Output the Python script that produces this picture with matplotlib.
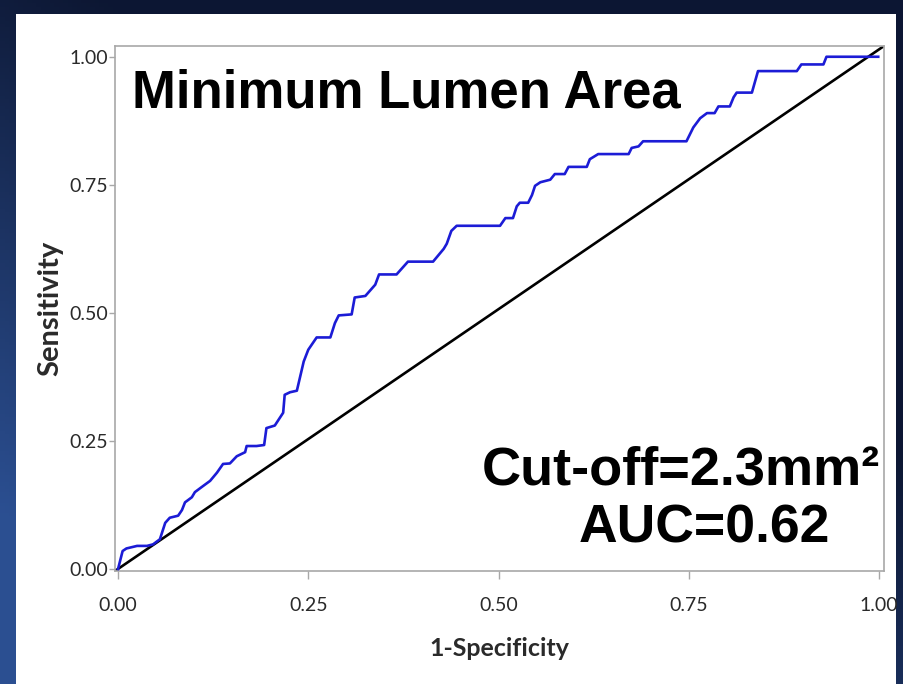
import numpy as np
import matplotlib
matplotlib.use("Agg")
import matplotlib.pyplot as plt
from matplotlib.patches import Rectangle

# ROC curve points (1-specificity, sensitivity)
fpr = [0.000, 0.006, 0.011, 0.025, 0.038, 0.046, 0.055, 0.062, 0.068, 0.079,
       0.084, 0.088, 0.097, 0.101, 0.110, 0.121, 0.130, 0.138, 0.147, 0.156,
       0.167, 0.169, 0.182, 0.192, 0.195, 0.206, 0.217, 0.219, 0.226, 0.235,
       0.244, 0.250, 0.261, 0.265, 0.279, 0.285, 0.290, 0.307, 0.311, 0.325,
       0.338, 0.343, 0.366, 0.375, 0.381, 0.414, 0.428, 0.432, 0.438, 0.445,
       0.502, 0.509, 0.519, 0.524, 0.528, 0.539, 0.544, 0.548, 0.555, 0.568,
       0.574, 0.587, 0.592, 0.616, 0.620, 0.631, 0.671, 0.675, 0.684, 0.690,
       0.747, 0.756, 0.765, 0.774, 0.784, 0.789, 0.804, 0.809, 0.813, 0.833,
       0.841, 0.892, 0.898, 0.927, 0.931, 0.999]
tpr = [0.000, 0.035, 0.040, 0.045, 0.045, 0.048, 0.058, 0.090, 0.100, 0.104,
       0.115, 0.130, 0.140, 0.150, 0.160, 0.172, 0.188, 0.205, 0.206, 0.220,
       0.228, 0.240, 0.240, 0.242, 0.275, 0.280, 0.305, 0.340, 0.345, 0.348,
       0.405, 0.428, 0.452, 0.452, 0.452, 0.480, 0.495, 0.497, 0.530, 0.533,
       0.555, 0.575, 0.575, 0.590, 0.600, 0.600, 0.625, 0.635, 0.660, 0.670,
       0.670, 0.685, 0.685, 0.708, 0.715, 0.715, 0.730, 0.748, 0.755, 0.760,
       0.771, 0.771, 0.785, 0.785, 0.800, 0.810, 0.810, 0.822, 0.825, 0.835,
       0.835, 0.862, 0.880, 0.890, 0.890, 0.903, 0.903, 0.921, 0.930, 0.930,
       0.972, 0.972, 0.985, 0.985, 1.000, 1.000]

ticks = [0.0, 0.25, 0.5, 0.75, 1.0]
tick_labels = ["0.00", "0.25", "0.50", "0.75", "1.00"]

title_text = "Minimum Lumen Area"
cutoff_text = "Cut-off=2.3mm\u00b2"
auc_text = "AUC=0.62"

fig = plt.figure(figsize=(9.04, 6.84), dpi=100)

# dark blue slide background with a lighter lower-left glow
bg = fig.add_axes([0, 0, 1, 1])
bg.set_axis_off()
yy, xx = np.mgrid[0:1:200j, 0:1:200j]
glow = np.clip(1.2 * yy - 0.9 * xx + 0.1, 0, 1)
c_dark = np.array([0.05, 0.09, 0.20])
c_light = np.array([0.17, 0.31, 0.57])
img = c_dark + glow[..., None] * (c_light - c_dark)
bg.imshow(img, extent=[0, 1, 0, 1], origin="upper", aspect="auto")
bg.add_patch(Rectangle((16 / 904, 0), 880 / 904, 670 / 684,
                       facecolor="white", edgecolor="none"))
bg.set_xlim(0, 1)
bg.set_ylim(0, 1)

ax = fig.add_axes([115 / 904, 113 / 684, 769 / 904, 525 / 684])
ax.set_facecolor("white")
ax.plot(fpr, tpr, color="#1c1cd6", lw=1.9, zorder=3)
ax.plot([0, 1], [0, 1], transform=ax.transAxes, color="black", lw=1.9, zorder=2)

ax.set_xlim(-0.004, 1.0066)
ax.set_ylim(-0.004, 1.021)
ax.set_xticks(ticks)
ax.set_xticklabels(tick_labels)
ax.set_yticks(ticks)
ax.set_yticklabels(tick_labels)
for sp in ax.spines.values():
    sp.set_color("#a8a8a8")
    sp.set_linewidth(1.2)
ax.tick_params(axis="x", length=6, width=1, color="#a8a8a8", pad=13,
               labelsize=14, labelcolor="#2a2a2a")
ax.tick_params(axis="y", length=4, width=1, color="#a8a8a8", pad=1,
               labelsize=14, labelcolor="#2a2a2a")
for lab in ax.get_xticklabels() + ax.get_yticklabels():
    lab.set_fontfamily("Lato")

ax.set_xlabel("1-Specificity", fontfamily="Lato", fontweight="bold",
              fontsize=18, color="#2a2a2a", labelpad=16)
ax.set_ylabel("Sensitivity", fontfamily="Lato", fontweight="bold",
              fontsize=21, color="#2a2a2a", labelpad=4)

ax.text(0.018, 0.90, title_text, fontfamily="Liberation Sans",
        fontweight="bold", fontsize=38, color="black", ha="left", va="baseline")
ax.text(1.001, 0.164, cutoff_text, fontfamily="Liberation Sans",
        fontweight="bold", fontsize=39, color="black", ha="right", va="baseline")
ax.text(0.771, 0.051, auc_text, fontfamily="Liberation Sans",
        fontweight="bold", fontsize=38.5, color="black", ha="center", va="baseline")

fig.savefig("out.png", dpi=100)
